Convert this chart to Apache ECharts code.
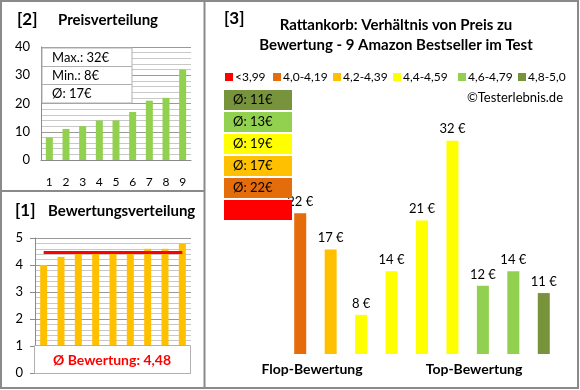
<!DOCTYPE html>
<html><head><meta charset="utf-8">
<script src="https://cdn.jsdelivr.net/npm/echarts@6/dist/echarts.min.js"></script>
<style>html,body{margin:0;padding:0;background:#fff}#c{width:580px;height:390px}</style>
</head><body><div id="c"></div>
<script>
// ---- data ----
const priceCats = ['1','2','3','4','5','6','7','8','9'];
const prices = [8, 11, 12, 14, 14, 17, 21, 22, 32];
const priceStats = ['Max.: 32€', 'Min.: 8€', 'Ø: 17€'];
const ratings = [4.0, 4.3, 4.5, 4.5, 4.5, 4.5, 4.6, 4.6, 4.8];
const avgRating = 4.48;
const avgRatingText = 'Ø Bewertung: 4,48';
const mainCats = ['1','2','3','4','5','6','7','8','9'];
const mainPrices = [22, 17, 8, 14, 21, 32, 12, 14, 11];
const mainClass = [1, 2, 3, 3, 3, 3, 4, 4, 5];
const ratingClasses = ['<3,99', '4,0-4,19', '4,2-4,39', '4,4-4,59', '4,6-4,79', '4,8-5,0'];
const classAvg = [null, 22, 17, 19, 13, 11];
const mainTitle = 'Rattankorb: Verhältnis von Preis zu\nBewertung - 9 Amazon Bestseller im Test';
const bottomLabels = ['Flop-Bewertung', 'Top-Bewertung'];

// ---- styles ----
const classColors = ['#FF0000', '#E46C0A', '#FFC000', '#FFFF00', '#92D050', '#77933C'];
const legendX = [225, 273, 333, 393, 458, 518];
const FONT = 'Lato, "Liberation Sans", sans-serif';

const chart = echarts.init(document.getElementById('c'), null, {renderer: 'canvas'});

const mainSeries = ratingClasses.map((name, ci) => ({
  name, type: 'bar', xAxisIndex: 2, yAxisIndex: 2, stack: 'main',
  barWidth: 12,
  itemStyle: {color: classColors[ci]},
  label: {show: true, position: 'top', distance: 5, formatter: '{c} €',
          fontFamily: FONT, fontSize: 13, color: '#000'},
  data: mainPrices.map((v, i) => mainClass[i] === ci ? v : '-')
}));

const graphics = [];
// frame
graphics.push({type: 'rect', shape: {x: 1, y: 1, width: 577, height: 387},
  style: {fill: 'none', stroke: '#8a8a8a', lineWidth: 2}, z: 100});
graphics.push({type: 'line', shape: {x1: 204.5, y1: 1, x2: 204.5, y2: 388},
  style: {stroke: '#8a8a8a', lineWidth: 2}, z: 100});
graphics.push({type: 'line', shape: {x1: 1, y1: 191, x2: 204.5, y2: 191},
  style: {stroke: '#8a8a8a', lineWidth: 2}, z: 100});
// titles
const T = (text, x, y, size, bold, align, color) => ({type: 'text', z: 50,
  style: {text, x, y, font: (bold ? 'bold ' : '') + size + 'px ' + FONT,
    fill: color || '#000', textAlign: align || 'left', textVerticalAlign: 'middle'}});
graphics.push(T('[2]', 17, 20, 17, true));
graphics.push(T('Preisverteilung', 58, 20, 15, true));
graphics.push(T('[1]', 15, 211, 17, true));
graphics.push(T('Bewertungsverteilung', 48, 211, 15, true));
graphics.push(T('[3]', 224, 19, 17, true));
graphics.push({type: 'text', z: 50, style: {text: mainTitle, x: 396, y: 35,
  font: 'bold 15px ' + FONT, fill: '#000', textAlign: 'center', textVerticalAlign: 'middle', lineHeight: 20}});
graphics.push(T('©Testerlebnis.de', 563, 98, 13, false, 'right'));
graphics.push(T(bottomLabels[0], 312, 369, 14, true, 'center'));
graphics.push(T(bottomLabels[1], 474, 369, 14, true, 'center'));
// legend (rating classes)
ratingClasses.forEach((name, ci) => {
  graphics.push({type: 'rect', z: 50, shape: {x: legendX[ci], y: 73, width: 8, height: 8},
    style: {fill: classColors[ci]}});
  graphics.push(T(name, legendX[ci] + 10, 77.5, 12, false));
});
// price stats box
graphics.push({type: 'rect', z: 40, shape: {x: 42, y: 48, width: 90, height: 55},
  style: {fill: '#fff', stroke: '#b0b0b0', lineWidth: 1}});
[66.5, 84.5].forEach(y => graphics.push({type: 'line', z: 41,
  shape: {x1: 42, y1: y, x2: 132, y2: y}, style: {stroke: '#b0b0b0', lineWidth: 1}}));
priceStats.forEach((t, i) => graphics.push(T(t, 52, 58 + i * 18, 13, false)));
// rating average box
graphics.push({type: 'rect', z: 40, shape: {x: 34.5, y: 345.5, width: 156, height: 28},
  style: {fill: '#fff', stroke: '#b0b0b0', lineWidth: 1}});
graphics.push(T(avgRatingText, 112, 360, 14, true, 'center', '#FF0000'));
// class average boxes (top: best class)
for (let k = 0; k < ratingClasses.length; k++) {
  const ci = ratingClasses.length - 1 - k;
  const y = 90 + k * 22;
  graphics.push({type: 'rect', z: 40, shape: {x: 224, y, width: 68, height: 20},
    style: {fill: classColors[ci]}});
  if (classAvg[ci] != null) graphics.push(T('Ø: ' + classAvg[ci] + '€', 233, y + 10, 13, false));
}

const option = {
  animation: false,
  textStyle: {fontFamily: FONT},
  grid: [
    {left: 41, top: 47, width: 150, height: 113},
    {left: 35, top: 238, width: 156, height: 135},
    {left: 285, top: 119, width: 274, height: 235}
  ],
  xAxis: [
    {gridIndex: 0, type: 'category', data: priceCats,
     axisLine: {lineStyle: {color: '#8a8a8a'}}, axisTick: {show: false},
     axisLabel: {margin: 16, fontFamily: FONT, fontSize: 12, color: '#000'}},
    {gridIndex: 1, type: 'category', data: priceCats,
     axisLine: {show: false}, axisTick: {show: false}, axisLabel: {show: false}},
    {gridIndex: 2, type: 'category', data: mainCats, show: false}
  ],
  yAxis: [
    {gridIndex: 0, type: 'value', min: 0, max: 40, interval: 10,
     axisLine: {show: true, lineStyle: {color: '#8a8a8a'}}, axisTick: {show: false},
     axisLabel: {margin: 11, fontFamily: FONT, fontSize: 13, color: '#000'},
     splitLine: {lineStyle: {color: '#9a9a9a'}},
     minorTick: {show: false, splitNumber: 5},
     minorSplitLine: {show: true, lineStyle: {color: '#c8c8c8'}}},
    {gridIndex: 1, type: 'value', min: 0, max: 5, interval: 1,
     axisLine: {show: true, lineStyle: {color: '#8a8a8a'}},
     axisTick: {show: true, length: 5, lineStyle: {color: '#8a8a8a'}},
     axisLabel: {margin: 12, fontFamily: FONT, fontSize: 13, color: '#000'},
     splitLine: {lineStyle: {color: '#9a9a9a'}},
     minorTick: {show: false, splitNumber: 5},
     minorSplitLine: {show: true, lineStyle: {color: '#c8c8c8'}}},
    {gridIndex: 2, type: 'value', min: 2.6, max: 35, show: false, splitLine: {show: false}}
  ],
  series: [
    {type: 'bar', xAxisIndex: 0, yAxisIndex: 0, data: prices, barWidth: 7,
     itemStyle: {color: '#92D050'}},
    {type: 'bar', xAxisIndex: 1, yAxisIndex: 1, data: ratings, barWidth: 7,
     itemStyle: {color: '#FFC000'},
     markLine: {silent: true, symbol: 'none', label: {show: false},
       lineStyle: {color: '#FF0000', width: 3, type: 'solid'},
       data: [[{coord: [0, avgRating]}, {coord: [8, avgRating]}]]}},
    ...mainSeries
  ],
  graphic: graphics
};
chart.setOption(option);
</script>
</body></html>
